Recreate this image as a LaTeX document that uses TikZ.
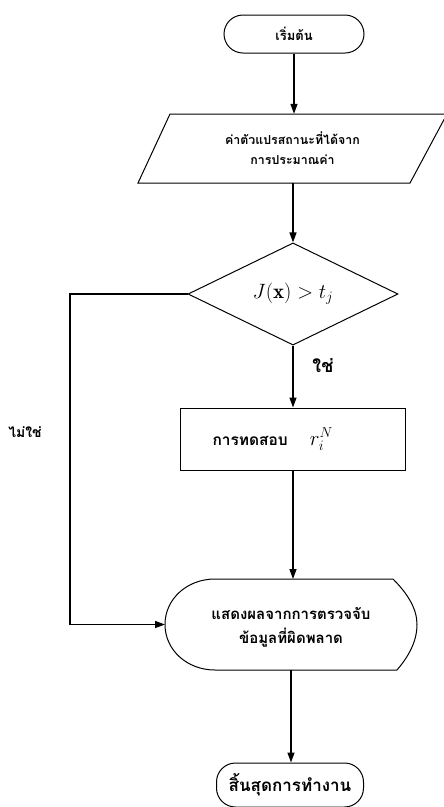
\documentclass[tikz,border=0pt]{standalone}
\usepackage{fontspec}
\newfontfamily\thaifont[Script=Thai]{Loma}
\usetikzlibrary{arrows.meta,shapes.geometric}
\begin{document}
\begin{tikzpicture}[x=1pt,y=-1pt,
  shapeline/.style={line width=1.0pt},
  arr/.style={line width=1.4pt,-{Triangle[length=10pt,width=7pt]}},
  thai/.style={font=\thaifont\bfseries\fontsize{12.4}{20}\selectfont, align=center},
  term/.style={thai, draw, shapeline, rounded corners=19pt, inner sep=0pt},
  lbl/.style={font=\thaifont\bfseries\fontsize{13}{15}\selectfont, inner sep=0pt}]
\useasboundingbox (0,0) rectangle (444,807);
\fill[white] (0,0) rectangle (444,807);

% start
\node[term, minimum width=140pt, minimum height=38pt, font=\thaifont\bfseries\fontsize{13}{15}\selectfont] (start) at (294,34) {เริ่มต้น};

% parallelogram (input)
\node[thai, minimum width=309pt, minimum height=69pt, inner sep=0pt] (para) at (292.5,148.5) {ค่าตัวแปรสถานะที่ได้จาก\\การประมาณค่า};
\draw[shapeline] (170,114) -- (447,114) -- (410,183) -- (138,183) -- cycle;

% decision
\node[diamond, draw, shapeline, minimum width=210pt, minimum height=78pt, inner sep=0pt,
      font=\fontsize{21}{23}\selectfont] (dec) at (293,294) {$J(\mathbf{x})>t_{j}$};

% process
\node[draw, shapeline, text width=225pt, align=left, minimum height=62pt, inner sep=0pt,
      font=\thaifont\bfseries\fontsize{15.5}{17}\selectfont] (proc) at (293,439)
  {\hspace*{32pt}การทดสอบ\hspace{22pt}{\fontsize{20}{22}\selectfont$r_{i}^{N}$}};

% display
\node[thai, minimum width=252pt, minimum height=91pt, inner sep=0pt,
      font=\thaifont\bfseries\fontsize{15}{24}\selectfont] (disp) at (291,627)
  {แสดงผลจากการตรวจจับ\\ข้อมูลที่ผิดพลาด};
\draw[shapeline] (215,579) -- (393,579)
  .. controls (408,594) and (417,609) .. (417,624.5)
  .. controls (417,641) and (409,656) .. (397,670)
  -- (215,670)
  .. controls (187,670) and (165,650) .. (165,624.5)
  .. controls (165,599) and (187,579) .. (215,579) -- cycle;
\coordinate (dispW) at (165,624.5);
\coordinate (dispN) at (293,579);
\coordinate (dispS) at (291,670);

% end
\node[term, minimum width=147pt, minimum height=44pt, font=\thaifont\bfseries\fontsize{17}{19}\selectfont] (stop) at (290,785) {สิ้นสุดการทำงาน};

% connectors
\coordinate (nocorner) at (70,294);
\draw[arr] (start.south) -- (start.south |- para.north);
\draw[arr] (dec.north |- para.south) -- (dec.north);
\draw[arr] (dec.south) -- (dec.south |- proc.north);
\draw[arr] (proc.south) -- (proc.south |- dispN);
\draw[arr] (dispS) -- (dispS |- stop.north);
\draw[arr] (dec.west) -- (nocorner) |- (dispW);

% labels
\node[lbl, font=\thaifont\bfseries\fontsize{18}{20}\selectfont] (yes) at (323,366) {ใช่};
\node[lbl, font=\thaifont\bfseries\fontsize{14}{16}\selectfont] (no) at (25,432) {ไม่ใช่};
\end{tikzpicture}
\end{document}
